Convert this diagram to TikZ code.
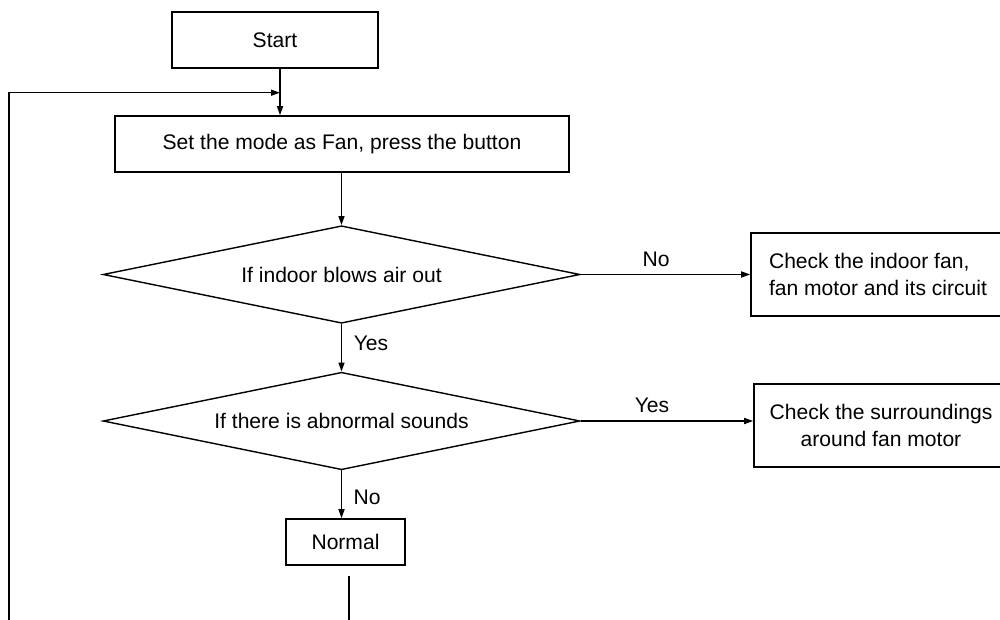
\documentclass[tikz,border=0pt]{standalone}
\usepackage{fontspec}
\setmainfont{Liberation Sans}
\usetikzlibrary{arrows.meta,shapes.geometric}

\begin{document}
\begin{tikzpicture}[
  x=0.02cm,y=-0.02cm,
  font=\fontsize{12}{15.4}\selectfont,
  box/.style={draw,line width=0.9pt,inner sep=0pt,align=center},
  decision/.style={draw,diamond,aspect=4.9,line width=0.8pt,inner sep=0pt,minimum width=9.54cm,minimum height=1.95cm},
  edge/.style={-{Triangle[length=1.8mm,width=1.2mm]},line width=0.8pt},
  plain/.style={line width=0.8pt},
  lbl/.style={inner sep=0pt}
]
\path[use as bounding box,clip] (0,0) rectangle (1000,619);
\node[box,minimum width=4.12cm,minimum height=1.12cm] (start) at (275,40) {Start};
\node[box,minimum width=9.08cm,minimum height=1.12cm] (setfan) at (342,144) {Set the mode as Fan, press the button};
\node[decision] (blows) at (341.5,274.5) {If indoor blows air out};
\node[decision] (sounds) at (341.5,421) {If there is abnormal sounds};
\node[box,align=flush left,text width=4.7cm,inner xsep=0.36cm,minimum height=1.66cm] (checkfan) at (886.5,274.5) {Check the indoor fan,\\fan motor and its circuit};
\node[box,minimum width=5.08cm,minimum height=1.66cm] (checkaround) at (881,425.5) {Check the surroundings\\around fan motor};
\node[box,minimum width=2.38cm,minimum height=0.92cm] (normal) at (345.5,542) {Normal};
\coordinate (join) at (280,92.7);
\coordinate (loop) at (9,640);
\coordinate (tail) at (349,640);
% main flow
\draw[edge] (start.south -| join) -- (setfan.north -| join);
\draw[edge] (loop) |- (join);
\draw[edge] (setfan.south -| blows.north) -- (blows.north);
\draw[edge] (blows.south) -- (sounds.north);
\draw[edge] (sounds.south) -- (sounds.south |- normal.north);
\draw[plain,shorten <=0.2cm] (normal.south -| tail) -- (tail);
% side branches
\draw[edge] (blows.east) -- (blows.east -| checkfan.west);
\draw[edge] (sounds.east) -- (sounds.east -| checkaround.west);
\node[lbl] (lblno) at (656,259) {No};
\node[lbl] (lblyes) at (652,405) {Yes};
\node[lbl] (lblyes2) at (371,343) {Yes};
\node[lbl] (lblno2) at (367,497) {No};
\end{tikzpicture}
\end{document}
